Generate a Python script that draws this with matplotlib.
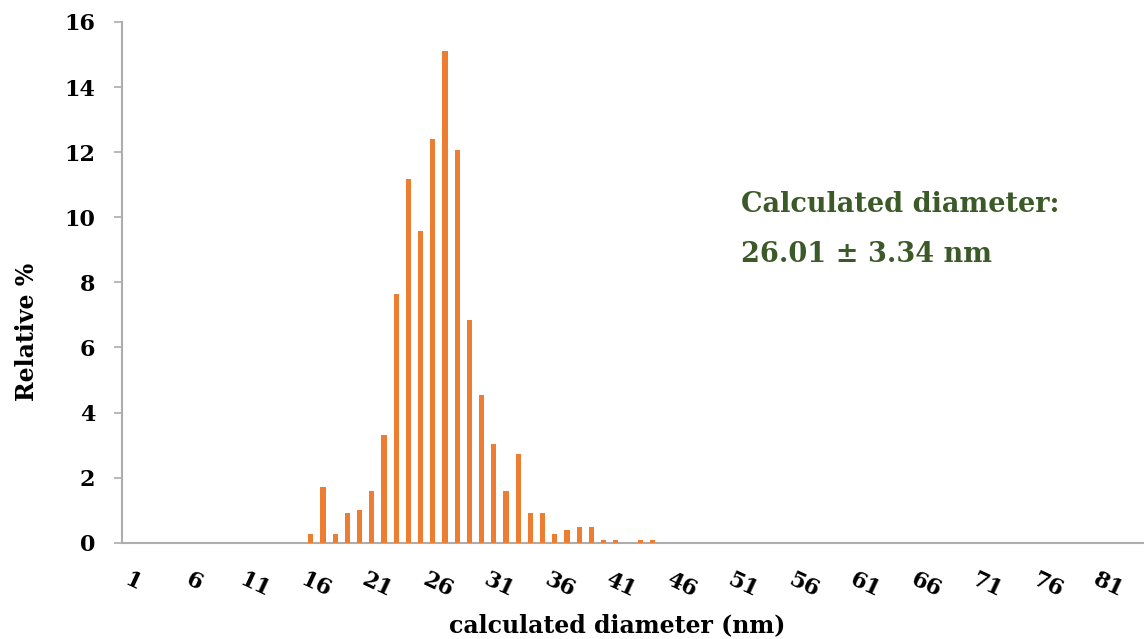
import matplotlib
matplotlib.use("Agg")
import matplotlib.pyplot as plt
import matplotlib.transforms as mtransforms

# particle size distribution (relative % per 1 nm diameter class)
diameter_nm = [16, 17, 18, 19, 20, 21, 22, 23, 24, 25, 26, 27, 28, 29, 30,
               31, 32, 33, 34, 35, 36, 37, 38, 39, 40, 41, 42, 43, 44]
relative_pct = [0.27, 1.70, 0.27, 0.90, 1.00, 1.59, 3.31, 7.65, 11.19, 9.58,
                12.40, 15.12, 12.07, 6.84, 4.53, 3.02, 1.59, 2.72, 0.90, 0.90,
                0.27, 0.38, 0.49, 0.49, 0.08, 0.08, 0.0, 0.08, 0.08]
n_classes = 84
tick_pos = [1, 6, 11, 16, 21, 26, 31, 36, 41, 46, 51, 56, 61, 66, 71, 76, 81]
tick_labels = [str(t) for t in tick_pos]
y_ticks = [0, 2, 4, 6, 8, 10, 12, 14, 16]

W, H = 1144, 639
font = "DejaVu Serif"
axis_grey = "#ADADAD"

fig = plt.figure(figsize=(W / 100, H / 100), dpi=100)
left, right = 121.7, 121.7 + n_classes * 12.2
top, bottom = 22.0, 542.7
ax = fig.add_axes([left / W, 1 - bottom / H, (right - left) / W, (bottom - top) / H])

ax.bar(diameter_nm, relative_pct, width=0.42, color="#ED7D31", linewidth=0)

ax.set_xlim(0.5, n_classes + 0.5)
ax.set_ylim(0, 16)
ax.set_yticks(y_ticks)
ax.set_yticklabels([str(v) for v in y_ticks], fontfamily=font,
                   fontweight="bold", fontsize=16)
ax.set_xticks(tick_pos)
ax.set_xticklabels(tick_labels, fontfamily=font, fontweight="bold",
                   fontsize=16, rotation=-25, ha="center", va="top")

for side in ("top", "right"):
    ax.spines[side].set_visible(False)
for side in ("left", "bottom"):
    ax.spines[side].set_color(axis_grey)
    ax.spines[side].set_linewidth(1.5)
ax.spines["bottom"].set_zorder(0)

ax.tick_params(axis="y", length=6, width=1.2, color=axis_grey, pad=13)
ax.tick_params(axis="x", length=0, pad=19)

# nudge the slanted category labels a little to the right
shift = mtransforms.ScaledTranslation(5 / 100, 0, fig.dpi_scale_trans)
for lbl in ax.get_xticklabels():
    lbl.set_transform(lbl.get_transform() + shift)

fig.text(27.5 / W, 1 - 332 / H, "Relative %", rotation=90, ha="center",
         va="center", fontfamily=font, fontweight="bold", fontsize=17)
fig.text(617 / W, 1 - 625 / H, "calculated diameter (nm)", ha="center",
         va="center", fontfamily=font, fontweight="bold", fontsize=17)

green = "#3B5A28"
fig.text(741 / W, 1 - 212 / H, "Calculated diameter:", ha="left",
         va="baseline", color=green, fontfamily=font, fontweight="bold",
         fontsize=19.5)
fig.text(741 / W, 1 - 262 / H, "26.01 \u00b1 3.34 nm", ha="left",
         va="baseline", color=green, fontfamily=font, fontweight="bold",
         fontsize=19.5)

fig.savefig("out.png", dpi=100)
